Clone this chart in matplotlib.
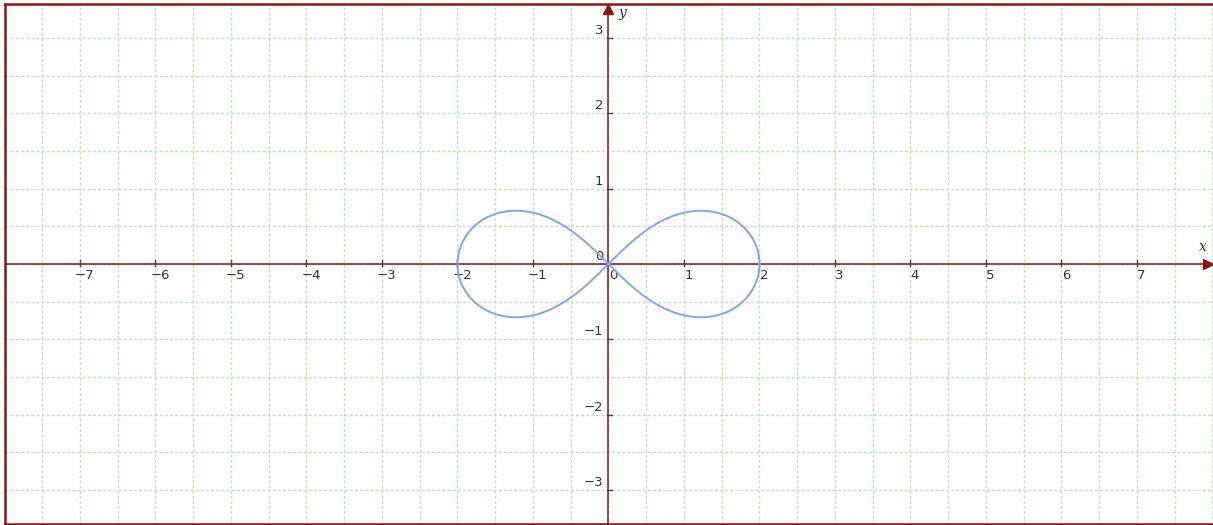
import numpy as np
import matplotlib
matplotlib.use("Agg")
import matplotlib.pyplot as plt

# -----------------------
# Data
# -----------------------
a_half_width = 2.0                 # lemniscate reaches x = +-2
x_ticks = [-7, -6, -5, -4, -3, -2, -1, 0, 1, 2, 3, 4, 5, 6, 7]
y_ticks = [-3, -2, -1, 0, 1, 2, 3]
x_range = (-8.0, 8.007)
y_range = (-3.45, 3.45)

RED = "#8f1414"
GRID = "#c2dfc2"
CURVE = "#7fa6ef"
TXT = "#333333"

W, H = 1213, 525
fig = plt.figure(figsize=(W / 100, H / 100), dpi=100)
ax = fig.add_axes([4.5 / W, 1 / H, 1 - 4.5 / W, 520 / H])
ax.set_xlim(*x_range)
ax.set_ylim(*y_range)

# grid every half unit
for gx in np.arange(-8, 8.01, 0.5):
    ax.axvline(gx, color=GRID, lw=1.0, ls=(0, (2.2, 1.5)), zorder=0)
for gy in np.arange(-3.0, 3.01, 0.5):
    ax.axhline(gy, color=GRID, lw=1.0, ls=(0, (2.2, 1.5)), zorder=0)

# border
for s in ["left", "top", "bottom"]:
    ax.spines[s].set_color(RED)
    ax.spines[s].set_linewidth(1.8)
ax.spines["right"].set_visible(False)
ax.set_xticks([])
ax.set_yticks([])

# axes with arrows
ax.axhline(0, color=RED, lw=1.1, zorder=2)
ax.axvline(0, color=RED, lw=1.1, zorder=2)
ax.plot([x_range[1] - 0.06], [0], marker=">", color=RED, ms=7, clip_on=False, zorder=3)
ax.plot([0], [y_range[1] - 0.06], marker="^", color=RED, ms=7, clip_on=False, zorder=3)

# tick marks and labels
for t in x_ticks:
    if t != 0:
        ax.plot([t, t], [-0.02, 0.05], color="#444444", lw=1.0, zorder=3)
    lab = str(t).replace("-", "\u2212")
    ax.text(t + 0.06, -0.07, lab, ha="center", va="top", fontsize=9.5, color=TXT)
for t in y_ticks:
    if t != 0:
        ax.plot([-0.02, 0.05], [t, t], color="#444444", lw=1.0, zorder=3)
    lab = str(t).replace("-", "\u2212")
    ax.text(-0.07, t + 0.1, lab, ha="right", va="center", fontsize=9.5, color=TXT)

ax.text(7.87, 0.23, "x", fontsize=10, family="DejaVu Serif", style="italic",
        color=TXT, ha="center", va="center")
ax.text(0.19, 3.33, "y", fontsize=10, family="DejaVu Serif", style="italic",
        color=TXT, ha="center", va="center")

# lemniscate of Bernoulli
t = np.linspace(0, 2 * np.pi, 800)
den = 1 + np.sin(t) ** 2
xs = a_half_width * np.cos(t) / den
ys = a_half_width * np.sin(t) * np.cos(t) / den
ax.plot(xs, ys, color=CURVE, lw=1.4, zorder=4)

fig.savefig("out.png", dpi=100)
